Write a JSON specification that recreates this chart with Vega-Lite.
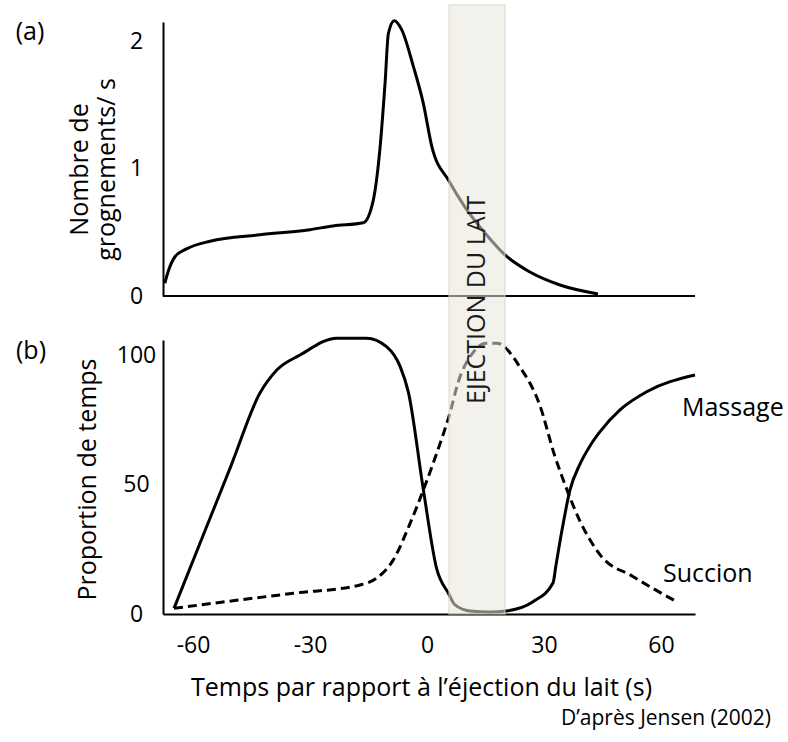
{
  "$schema": "https://vega.github.io/schema/vega-lite/v6.json",
  "width": 532,
  "height": 609,
  "autosize": {"type": "none"},
  "padding": {"left": 163, "top": 5, "right": 93, "bottom": 128},
  "background": "white",
  "config": {
    "view": {"stroke": null},
    "font": "Open Sans",
    "axis": {
      "grid": false, "ticks": false, "tickSize": 0,
      "domainColor": "black", "domainWidth": 2,
      "labelColor": "black", "titleColor": "black",
      "labelFont": "Open Sans", "titleFont": "Open Sans",
      "titleFontWeight": "normal", "labelFontSize": 23, "titleFontSize": 25
    },
    "text": {"font": "Open Sans", "fontSize": 25, "color": "black"}
  },
  "title": {
    "text": "D’après Jensen (2002)", "orient": "bottom", "anchor": "end", "frame": "group",
    "dx": 76, "offset": 8, "fontSize": 21, "fontWeight": "normal", "color": "black", "font": "Open Sans"
  },
  "datasets": {
    "grognements": [
      {"t": -67.23, "v": 0.10}, {"t": -66.28, "v": 0.20}, {"t": -64.58, "v": 0.31}, {"t": -61.66, "v": 0.37},
      {"t": -55.61, "v": 0.43}, {"t": -42.86, "v": 0.48}, {"t": -30.02, "v": 0.52}, {"t": -24.07, "v": 0.55},
      {"t": -16.32, "v": 0.575}, {"t": -13.78, "v": 0.75}, {"t": -12.08, "v": 1.15}, {"t": -10.75, "v": 1.67},
      {"t": -9.9, "v": 2.06}, {"t": -8.39, "v": 2.16}, {"t": -6.5, "v": 2.09}, {"t": -3.48, "v": 1.80},
      {"t": -0.93, "v": 1.51}, {"t": 1.26, "v": 1.17}, {"t": 5.64, "v": 0.903}, {"t": 9.74, "v": 0.698},
      {"t": 14.87, "v": 0.494}, {"t": 20.0, "v": 0.322}, {"t": 26.41, "v": 0.188}, {"t": 34.1, "v": 0.086},
      {"t": 43.85, "v": 0.016}
    ],
    "massage": [
      {"t": -64.87, "v": 2.2}, {"t": -57.44, "v": 30.2}, {"t": -50.26, "v": 57.2}, {"t": -42.87, "v": 85.2},
      {"t": -38.51, "v": 94.2}, {"t": -32.56, "v": 100}, {"t": -23.13, "v": 106.5}, {"t": -15.49, "v": 106.5},
      {"t": -10.38, "v": 103.2}, {"t": -6.87, "v": 95.5}, {"t": -4.79, "v": 85.8}, {"t": -0.92, "v": 47.9},
      {"t": 2.46, "v": 17.6}, {"t": 5.49, "v": 8.0}, {"t": 7.18, "v": 3.5}, {"t": 11.03, "v": 1.16},
      {"t": 16.15, "v": 0.77}, {"t": 20.26, "v": 1.16}, {"t": 27.18, "v": 4.75}, {"t": 32.31, "v": 11.97},
      {"t": 33.08, "v": 18.9}, {"t": 34.62, "v": 32.4}, {"t": 36.67, "v": 47.9}, {"t": 39.23, "v": 57.9},
      {"t": 41.79, "v": 64.9}, {"t": 44.36, "v": 70.4}, {"t": 49.49, "v": 78.8}, {"t": 56.33, "v": 85.8},
      {"t": 68.72, "v": 92.3}
    ],
    "succion": [
      {"t": -64.87, "v": 2.2}, {"t": -51.36, "v": 4.8}, {"t": -34.27, "v": 8.0}, {"t": -17.18, "v": 11.2},
      {"t": -12.93, "v": 13.8}, {"t": -8.68, "v": 20.8}, {"t": -4.33, "v": 35}, {"t": -0.93, "v": 47.9},
      {"t": 2.47, "v": 62}, {"t": 5.87, "v": 77.5}, {"t": 8.04, "v": 89.7}, {"t": 11.35, "v": 100},
      {"t": 15.12, "v": 104.5}, {"t": 17.96, "v": 104.5}, {"t": 23.81, "v": 95.4}, {"t": 28.91, "v": 80.7},
      {"t": 32.69, "v": 61.4}, {"t": 35.43, "v": 49.8}, {"t": 39.2, "v": 36}, {"t": 44.4, "v": 22.8},
      {"t": 52.9, "v": 14.4}, {"t": 64.42, "v": 4.4}
    ],
    "ejection": [
      {"t": 5.64, "t2": 20.0, "label": "EJECTION DU LAIT"}
    ]
  },
  "layer": [
    {
      "layer": [
        {
          "data": {"name": "grognements"},
          "mark": {"type": "line", "color": "black", "strokeWidth": 3, "interpolate": "monotone"},
          "encoding": {
            "x": {"field": "t", "type": "quantitative",
              "scale": {"domain": [-67.69, 68.72], "nice": false, "zero": false},
              "axis": {"values": [-60, -30, 0, 30, 60], "title": "Temps par rapport à l’éjection du lait (s)",
                "labelExpr": "toString(datum.value)",
                "labelPadding": 20, "titlePadding": 18, "titleX": 258, "labelFlush": false}},
            "y": {"field": "v", "type": "quantitative",
              "scale": {"domain": [0, 2.15], "range": [291, 17], "nice": false, "zero": false},
              "axis": {"orient": "left", "values": [0, 1, 2], "format": "d", "title": ["Nombre de", "grognements/ s"],
                "labelAlign": "center", "labelBaseline": "middle", "labelPadding": 27,
                "titleX": -71, "titleY": 164, "titleAngle": 270, "titleAlign": "center", "titleBaseline": "bottom"}}
          }
        },
        {
          "data": {"name": "grognements"},
          "mark": {"type": "rule", "color": "black", "strokeWidth": 2},
          "encoding": {"y": {"datum": 0, "type": "quantitative"}}
        },
        {
          "data": {"name": "ejection"},
          "mark": {"type": "text", "text": "(a)", "align": "center", "baseline": "middle", "dx": -133},
          "encoding": {"x": {"datum": -67.69, "type": "quantitative"}, "y": {"datum": 2.07, "type": "quantitative"}}
        }
      ]
    },
    {
      "layer": [
        {
          "data": {"name": "massage"},
          "mark": {"type": "line", "color": "black", "strokeWidth": 3, "interpolate": "monotone"},
          "encoding": {
            "x": {"field": "t", "type": "quantitative",
              "scale": {"domain": [-67.69, 68.72], "nice": false, "zero": false},
              "axis": {"values": [-60, -30, 0, 30, 60], "title": "Temps par rapport à l’éjection du lait (s)",
                "labelExpr": "toString(datum.value)",
                "labelPadding": 20, "titlePadding": 18, "titleX": 258, "labelFlush": false}},
            "y": {"field": "v", "type": "quantitative",
              "scale": {"domain": [0, 105.8], "range": [609, 335], "nice": false, "zero": false},
              "axis": {"orient": "left", "values": [0, 50, 100], "format": "d", "title": "Proportion de temps",
                "labelAlign": "center", "labelBaseline": "middle", "labelPadding": 27,
                "titleX": -63, "titleY": 474, "titleAngle": 270, "titleAlign": "center", "titleBaseline": "bottom"}}
          }
        },
        {
          "data": {"name": "succion"},
          "mark": {"type": "line", "color": "black", "strokeWidth": 3, "strokeDash": [9, 5], "interpolate": "monotone"},
          "encoding": {
            "x": {"field": "t", "type": "quantitative",
              "scale": {"domain": [-67.69, 68.72], "nice": false, "zero": false},
              "axis": {"values": [-60, -30, 0, 30, 60], "title": "Temps par rapport à l’éjection du lait (s)",
                "labelExpr": "toString(datum.value)",
                "labelPadding": 20, "titlePadding": 18, "titleX": 258, "labelFlush": false}},
            "y": {"field": "v", "type": "quantitative"}
          }
        },
        {
          "data": {"name": "ejection"},
          "mark": {"type": "text", "text": "Massage", "align": "left", "baseline": "middle"},
          "encoding": {"x": {"datum": 65.38, "type": "quantitative"}, "y": {"datum": 79.5, "type": "quantitative"}}
        },
        {
          "data": {"name": "ejection"},
          "mark": {"type": "text", "text": "Succion", "align": "left", "baseline": "middle"},
          "encoding": {"x": {"datum": 60.51, "type": "quantitative"}, "y": {"datum": 15.4, "type": "quantitative"}}
        },
        {
          "data": {"name": "ejection"},
          "mark": {"type": "text", "text": "(b)", "align": "center", "baseline": "middle", "dx": -132},
          "encoding": {"x": {"datum": -67.69, "type": "quantitative"}, "y": {"datum": 101.5, "type": "quantitative"}}
        }
      ]
    },
    {
      "data": {"name": "ejection"},
      "layer": [
        {
          "mark": {"type": "rect", "fill": "#e9e5da", "fillOpacity": 0.55, "stroke": "#d8d3c2", "strokeOpacity": 0.6, "strokeWidth": 1.5},
          "encoding": {
            "x": {"field": "t", "type": "quantitative",
              "scale": {"domain": [-67.69, 68.72], "nice": false, "zero": false},
              "axis": {"values": [-60, -30, 0, 30, 60], "title": "Temps par rapport à l’éjection du lait (s)",
                "labelExpr": "toString(datum.value)",
                "labelPadding": 20, "titlePadding": 18, "titleX": 258, "labelFlush": false}},
            "x2": {"field": "t2"}
          }
        },
        {
          "mark": {"type": "text", "angle": 270, "align": "center", "baseline": "middle", "color": "#1a1a1a"},
          "encoding": {
            "text": {"field": "label"},
            "x": {"datum": 12.82, "type": "quantitative"},
            "y": {"datum": -0.03, "type": "quantitative", "scale": {"domain": [0, 2.15], "range": [291, 17], "nice": false, "zero": false}, "axis": null}
          }
        }
      ]
    }
  ],
  "resolve": {"scale": {"y": "independent"}, "axis": {"y": "independent"}}
}
